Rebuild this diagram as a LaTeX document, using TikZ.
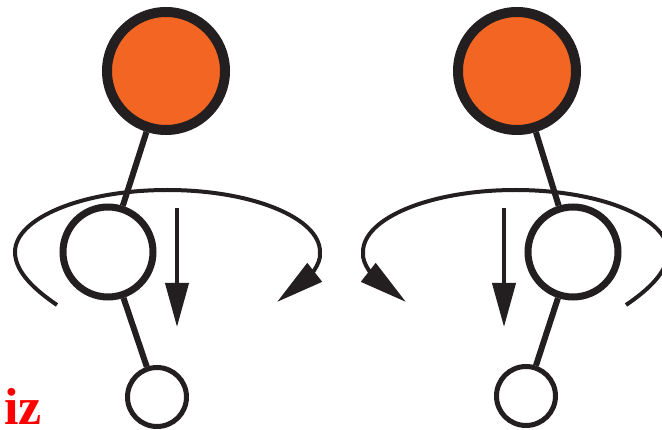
\documentclass[tikz,border=0pt]{standalone}
\usepackage{fontspec}
\newfontfamily\labelfont{Liberation Serif}
\usetikzlibrary{arrows.meta}
\definecolor{nodeorange}{RGB}{242,101,34}
\definecolor{ink}{RGB}{35,31,32}
\begin{document}
\begin{tikzpicture}[x=1pt,y=-1pt,
  bigc/.style={circle, draw=ink, fill=nodeorange, line width=10pt, minimum size=118pt, inner sep=0pt},
  midc/.style={circle, draw=ink, fill=white, line width=7pt, minimum size=90pt, inner sep=0pt},
  smallc/.style={circle, draw=ink, fill=white, line width=5pt, minimum size=59pt, inner sep=0pt},
  link/.style={draw=ink, line width=6pt},
  swirl/.style={draw=ink, line width=4pt, -{Triangle[length=48pt,width=23pt]}},
  push/.style={draw=ink, line width=4pt, -{Triangle[length=44pt,width=23pt]}}]
\useasboundingbox (0,0) rectangle (662,430);

% left tree
\node[bigc] (o1) at (166,71) {};
\node[midc] (m1) at (108,252) {};
\node[smallc] (s1) at (157,397) {};
% right tree
\node[bigc] (o2) at (517,71) {};
\node[midc] (m2) at (573,252) {};
\node[smallc] (s2) at (526,396) {};

\draw[link] (o1) -- (m1);
\draw[link] (m1) -- (s1);
\draw[link] (o2) -- (m2);
\draw[link] (m2) -- (s2);

% left swirl
\coordinate (a1s) at (57,305);
\coordinate (a1l) at (15,252);
\coordinate (a1t) at (167.5,190);
\coordinate (a1r) at (320,252);
\coordinate (a1e) at (277,302);
\draw[swirl] (a1s) .. controls (35,290) and (15,272) .. (a1l)
  .. controls (15,217.8) and (83.3,190) .. (a1t)
  .. controls (251.7,190) and (320,217.8) .. (a1r)
  .. controls (322,265) and (305,280) .. (a1e);

% right swirl
\coordinate (a2s) at (626,305);
\coordinate (a2l) at (668,252);
\coordinate (a2t) at (515.5,190);
\coordinate (a2r) at (363,252);
\coordinate (a2e) at (406,302);
\draw[swirl] (a2s) .. controls (648,290) and (668,272) .. (a2l)
  .. controls (668,217.8) and (599.7,190) .. (a2t)
  .. controls (431.3,190) and (363,217.8) .. (a2r)
  .. controls (361,265) and (378,280) .. (a2e);

% down arrows
\coordinate (d1a) at (177,208);
\coordinate (d1b) at (177,327);
\coordinate (d2a) at (504,208);
\coordinate (d2b) at (504,327);
\draw[push] (d1a) -- (d1b);
\draw[push] (d2a) -- (d2b);

\node[anchor=base west, inner sep=0pt, text=red, font=\labelfont\bfseries\fontsize{52}{52}\selectfont] (lbl) at (4,425) {iz};
\end{tikzpicture}
\end{document}
